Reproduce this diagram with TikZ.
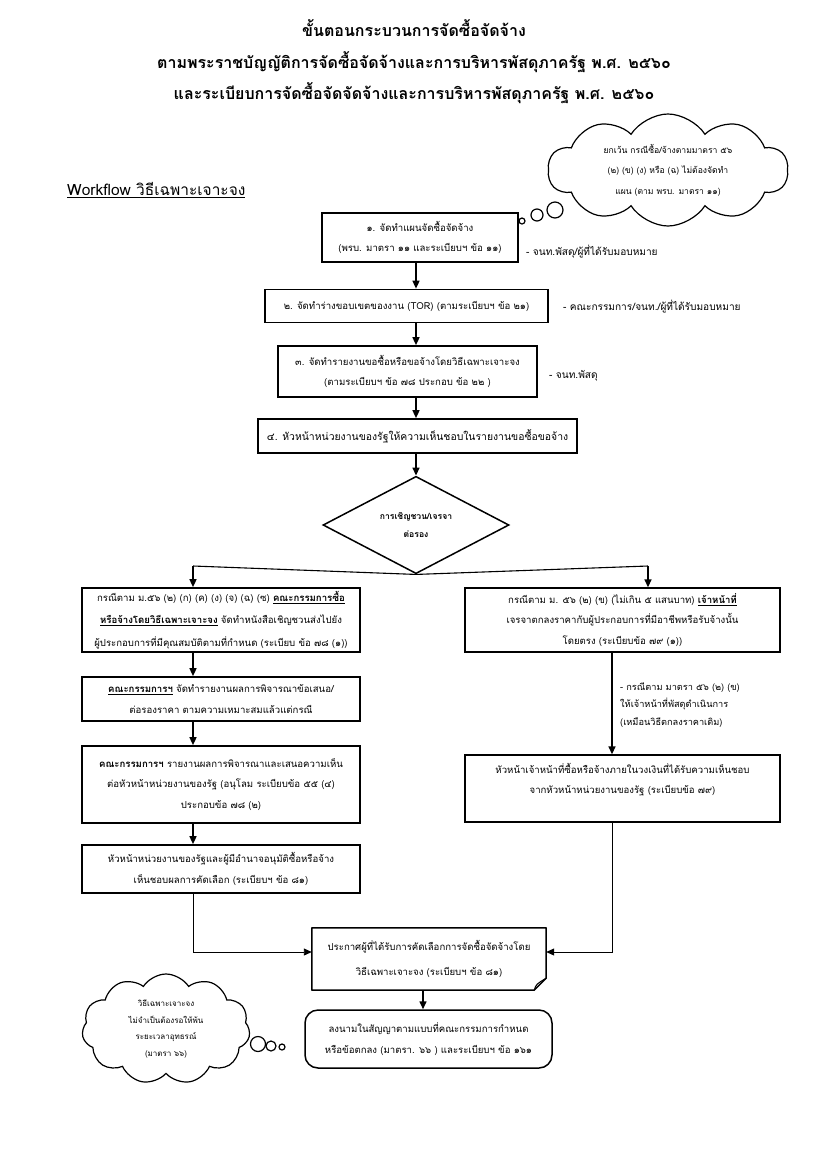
\documentclass[tikz,border=0pt]{standalone}
\usepackage{fontspec}
\newfontfamily\thai[Script=Thai]{Loma}
\usetikzlibrary{arrows.meta,shapes.geometric,shapes.symbols}
\begin{document}
\begin{tikzpicture}[x=1pt,y=-1pt,
  body/.style={font=\thai\fontsize{9.6}{20.5}\selectfont},
  box/.style={draw, line width=1.7pt, inner sep=2pt, align=center, body},
  arr/.style={line width=1.5pt, -{Triangle[length=8pt,width=7pt]}},
  conn/.style={line width=0.9pt, draw=black!65, -{Triangle[length=8pt,width=7pt]}, color=black},
  side/.style={anchor=west, inner sep=0pt, body, align=left},
  cloudy/.style={cloud, draw, line width=1.2pt, cloud puffs=13, cloud puff arc=115, inner sep=0pt, align=center},
  bubble/.style={draw, line width=1.2pt, circle, inner sep=0pt},
  titlef/.style={font=\thai\bfseries\fontsize{16}{20}\selectfont}
]
\useasboundingbox (0,0) rectangle (828,1152);
\fill[white] (0,0) rectangle (828,1152);

% titles
\node[titlef] (t1) at (414,28) {ขั้นตอนกระบวนการจัดซื้อจัดจ้าง};
\node[titlef] (t2) at (414,62) {ตามพระราชบัญญัติการจัดซื้อจัดจ้างและการบริหารพัสดุภาครัฐ พ.ศ. ๒๕๖๐};
\node[titlef] (t3) at (414,93) {และระเบียบการจัดซื้อจัดจัดจ้างและการบริหารพัสดุภาครัฐ พ.ศ. ๒๕๖๐};

\node[anchor=west, inner sep=0pt, font=\thai\fontsize{15.5}{18}\selectfont] (wf) at (67,190) {\underline{Workflow วิธีเฉพาะเจาะจง}};

% top-right cloud
\node[cloudy, cloud puffs=10, aspect=2.3, minimum width=240pt, minimum height=112pt, font=\thai\fontsize{8.6}{20.5}\selectfont] (c1) at (668,170)
  {ยกเว้น กรณีซื้อ/จ้างตามมาตรา ๕๖\\(๒) (ข) (ง) หรือ (ฉ) ไม่ต้องจัดทำ\\แผน (ตาม พรบ. มาตรา ๑๑)};
\node[bubble, minimum size=6pt] (c1a) at (522,221) {};
\node[bubble, minimum size=12pt] (c1b) at (537,215) {};
\node[bubble, minimum size=16pt] (c1c) at (555,210) {};

\coordinate (ax) at (416,0);

% main steps
\node[box, minimum width=196pt, minimum height=49pt] (b1) at (420,237.5)
  {๑. จัดทำแผนจัดซื้อจัดจ้าง\\(พรบ. มาตรา ๑๑ และระเบียบฯ ข้อ ๑๑)};
\node[side, font=\thai\fontsize{10.1}{20}\selectfont] (s1) at (526,252) {- จนท.พัสดุ/ผู้ที่ได้รับมอบหมาย};

\node[box, minimum width=283pt, minimum height=33pt] (b2) at (406.5,306)
  {๒. จัดทำร่างขอบเขตของงาน (TOR) (ตามระเบียบฯ ข้อ ๒๑)};
\node[side, font=\thai\fontsize{10.1}{20}\selectfont] (s2) at (563,307) {- คณะกรรมการ/จนท./ผู้ที่ได้รับมอบหมาย};

\node[box, minimum width=259pt, minimum height=51pt] (b3) at (407.5,371.5)
  {๓. จัดทำรายงานขอซื้อหรือขอจ้างโดยวิธีเฉพาะเจาะจง\\(ตามระเบียบฯ ข้อ ๗๘ ประกอบ ข้อ ๒๒ )};
\node[side, font=\thai\fontsize{10.1}{20}\selectfont] (s3) at (549,376) {- จนท.พัสดุ};

\node[box, minimum width=319pt, minimum height=34pt, font=\thai\fontsize{10.4}{20}\selectfont] (b4) at (417.5,436)
  {๔. หัวหน้าหน่วยงานของรัฐให้ความเห็นชอบในรายงานขอซื้อขอจ้าง};

\node[diamond, draw, line width=1.5pt, minimum width=186pt, minimum height=82pt, inner sep=0pt, align=center,
      font=\thai\bfseries\fontsize{8.6}{18}\selectfont] (d) at (416,525) {การเชิญชวน/เจรจา\\ต่อรอง};

\draw[arr] (b1.south -| ax) -- (b2.north -| ax);
\draw[arr] (b2.south -| ax) -- (b3.north -| ax);
\draw[arr] (b3.south -| ax) -- (b4.north -| ax);
\draw[arr] (b4.south -| ax) -- (d.north);

% left column
\coordinate (lx) at (193,0);
\node[box, minimum width=278pt, minimum height=64pt, font=\thai\fontsize{9.6}{22.5}\selectfont] (la) at (221,620)
  {กรณีตาม ม.๕๖ (๒) (ก) (ค) (ง) (จ) (ฉ) (ซ) \underline{\bfseries คณะกรรมการซื้อ}\\
   \underline{\bfseries หรือจ้างโดยวิธีเฉพาะเจาะจง} จัดทำหนังสือเชิญชวนส่งไปยัง\\
   ผู้ประกอบการที่มีคุณสมบัติตามที่กำหนด (ระเบียบ ข้อ ๗๘ (๑))};
\node[box, minimum width=278pt, minimum height=44pt] (lb) at (221,699)
  {\underline{\bfseries คณะกรรมการฯ} จัดทำรายงานผลการพิจารณาข้อเสนอ/\\ต่อรองราคา ตามความเหมาะสมแล้วแต่กรณี};
\node[box, minimum width=278pt, minimum height=77pt] (lc) at (221,784.5)
  {{\bfseries คณะกรรมการฯ} รายงานผลการพิจารณาและเสนอความเห็น\\ต่อหัวหน้าหน่วยงานของรัฐ (อนุโลม ระเบียบข้อ ๕๕ (๔)\\ประกอบข้อ ๗๘ (๒)};
\node[box, minimum width=278pt, minimum height=48pt] (ld) at (221,869)
  {หัวหน้าหน่วยงานของรัฐและผู้มีอำนาจอนุมัติซื้อหรือจ้าง\\เห็นชอบผลการคัดเลือก (ระเบียบฯ ข้อ ๘๑)};

% right column
\node[box, line width=1.4pt, minimum width=315pt, minimum height=64pt] (ra) at (622.5,620)
  {กรณีตาม ม. ๕๖ (๒) (ข) (ไม่เกิน ๕ แสนบาท) \underline{\bfseries เจ้าหน้าที่}\\
   เจรจาตกลงราคากับผู้ประกอบการที่มีอาชีพหรือรับจ้างนั้น\\
   โดยตรง (ระเบียบข้อ ๗๙ (๑))};
\node[box, line width=1.4pt, minimum width=315pt, minimum height=67pt] (rb) at (622.5,788.5)
  {หัวหน้าเจ้าหน้าที่ซื้อหรือจ้างภายในวงเงินที่ได้รับความเห็นชอบ\\จากหัวหน้าหน่วยงานของรัฐ (ระเบียบข้อ ๗๙)\\[0pt]};
\node[side, font=\thai\fontsize{9.2}{17.5}\selectfont] (rn) at (620,705)
  {- กรณีตาม มาตรา ๕๖ (๒) (ข)\\ให้เจ้าหน้าที่พัสดุดำเนินการ\\(เหมือนวิธีตกลงราคาเดิม)};
\coordinate (rx) at (612,0);

% branch from decision
\coordinate (dl) at (193,566);
\coordinate (dr) at (648,566);
\draw[line width=1.1pt] (d.south) -- (dl);
\draw[line width=1.1pt] (d.south) -- (dr);
\draw[arr] (dl) -- (la.north -| dl);
\draw[arr] (dr) -- (ra.north -| dr);

\draw[arr] (la.south -| lx) -- (lb.north -| lx);
\draw[arr] (lb.south -| lx) -- (lc.north -| lx);
\draw[arr] (lc.south -| lx) -- (ld.north -| lx);
\draw[arr] (ra.south -| rx) -- (rb.north -| rx);

% notice (document shape)
\node[body, align=center, minimum width=234pt, minimum height=62pt, inner sep=0pt] (nt) at (429,959)
  {ประกาศผู้ที่ได้รับการคัดเลือกการจัดซื้อจัดจ้างโดย\\[4pt]วิธีเฉพาะเจาะจง (ระเบียบฯ ข้อ ๘๑)};
\draw[line width=1.5pt, line join=round] (nt.north west) -- (nt.north east) -- ([yshift=12pt]nt.south east)
  -- ([xshift=-12pt]nt.south east) -- (nt.south west) -- cycle;
\draw[line width=1.1pt] ([xshift=-12pt]nt.south east) .. controls ([xshift=-10pt,yshift=6pt]nt.south east) .. ([yshift=12pt]nt.south east);

\coordinate (ny) at (0,952);
\draw[conn] (ld.south -| lx) -- (lx |- ny) -- (nt.west |- ny);
\draw[conn] (rb.south -| rx) -- (rx |- ny) -- (nt.east |- ny);

% final
\node[box, line width=1.5pt, rounded corners=13pt, minimum width=247pt, minimum height=58pt] (fn) at (428.5,1039)
  {ลงนามในสัญญาตามแบบที่คณะกรรมการกำหนด\\หรือข้อตกลง (มาตรา. ๖๖ ) และระเบียบฯ ข้อ ๑๖๑};
\draw[arr] (nt.south -| 423,0) -- (fn.north -| 423,0);

% bottom cloud
\node[cloudy, aspect=1.5, minimum width=168pt, minimum height=110pt, cloud puffs=11, font=\thai\fontsize{8}{16.5}\selectfont] (c2) at (166,1029)
  {วิธีเฉพาะเจาะจง\\ไม่จำเป็นต้องรอให้พ้น\\ระยะเวลาอุทธรณ์\\(มาตรา ๖๖)};
\node[bubble, minimum size=15pt] (c2a) at (258,1044) {};
\node[bubble, minimum size=10pt] (c2b) at (271,1046) {};
\node[bubble, minimum size=6pt] (c2c) at (282,1047) {};
\end{tikzpicture}
\end{document}
